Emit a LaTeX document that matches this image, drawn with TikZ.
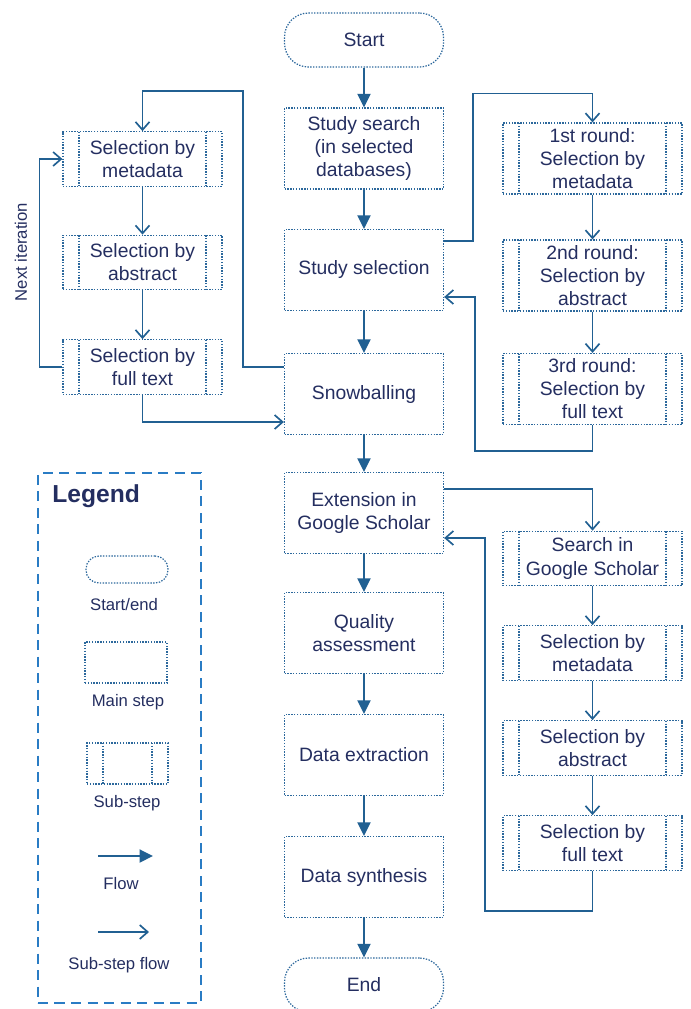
\documentclass[tikz,border=0pt]{standalone}
\usepackage{fontspec}
\setmainfont{Liberation Sans}
\usepackage{tikz}
\usetikzlibrary{arrows.meta}
\usetikzlibrary{calc}
\usetikzlibrary{positioning}
\definecolor{boxblue}{RGB}{44,104,156}
\definecolor{flowblue}{RGB}{33,96,146}
\definecolor{textnavy}{RGB}{36,46,96}
\definecolor{legendblue}{RGB}{42,124,196}
\tikzset{
    dotline/.style={
        draw=boxblue,
        line width=0.7pt,
        dash pattern=on 0.8pt off 0.8pt
    },
    stepbox/.style={
        dotline,
        align=center,
        text=textnavy,
        font=\fontsize{11}{13.1}\selectfont,
        inner sep=1pt
    },
    mainbox/.style={
        stepbox,
        minimum width=31.8mm,
        minimum height=16.2mm
    },
    termbox/.style={
        stepbox,
        rounded corners=4.8mm,
        minimum width=31.8mm,
        minimum height=10.8mm
    },
    substep/.style={
        stepbox,
        path picture={
            \draw[dotline]
              ([xshift=3.2mm]path picture bounding box.north west) -- ([xshift=3.2mm]path picture bounding box.south west)
              ([xshift=-3.2mm]path picture bounding box.north east) -- ([xshift=-3.2mm]path picture bounding box.south east);
        }
    },
    leftsub/.style={substep, minimum width=31.8mm, minimum height=10.9mm},
    rightsub/.style={substep, minimum width=35.8mm, minimum height=14.2mm},
    gssub/.style={substep, minimum width=35.8mm, minimum height=10.9mm},
    note/.style={text=textnavy, font=\fontsize{9.5}{11}\selectfont, inner sep=1pt},
    flow/.style={draw=flowblue, line width=1.1pt, -{Triangle[length=2.7mm,width=2.6mm]}},
    subflow/.style={draw=flowblue, line width=0.95pt, -{Straight Barb[length=1.6mm,width=2.8mm]}}
}
\begin{document}
\begin{tikzpicture}[x=0.2mm, y=-0.2mm]
    \useasboundingbox (0,0) rectangle (691,1009);

    % main steps
    \node[termbox] (start) at (364,40) {Start};
    \node[mainbox] (search) at (364,148.5) {Study search\\(in selected\\databases)};
    \node[mainbox] (sel) at (364,270) {Study selection};
    \node[mainbox] (snow) at (364,394) {Snowballing};
    \node[mainbox] (ext) at (364,513) {Extension in\\Google Scholar};
    \node[mainbox] (qual) at (364,633) {Quality\\assessment};
    \node[mainbox] (extr) at (364,755) {Data extraction};
    \node[mainbox] (synth) at (364,877) {Data synthesis};
    \node[termbox] (end) at (364,985) {End};
    \foreach \a/\b in {start/search,search/sel,sel/snow,snow/ext,ext/qual,qual/extr,extr/synth,synth/end}
      \draw[flow] (\a) -- (\b);

    % snowballing sub-steps
    \node[leftsub] (m1) at (142.5,159) {Selection by\\metadata};
    \node[leftsub] (m2) at (142.5,262.5) {Selection by\\abstract};
    \node[leftsub] (m3) at (142.5,367) {Selection by\\full text};

    % study selection sub-steps
    \node[rightsub] (r1) at (592.5,158.5) {1st round:\\Selection by\\metadata};
    \node[rightsub] (r2) at (592.5,275.5) {2nd round:\\Selection by\\abstract};
    \node[rightsub] (r3) at (592.5,389) {3rd round:\\Selection by\\full text};

    % google scholar sub-steps
    \node[gssub] (g1) at (592.5,558.5) {Search in\\Google Scholar};
    \node[gssub] (g2) at (592.5,653) {Selection by\\metadata};
    \node[gssub] (g3) at (592.5,748) {Selection by\\abstract};
    \node[gssub] (g4) at (592.5,843) {Selection by\\full text};

    \foreach \a/\b in {m1/m2,m2/m3,r1/r2,r2/r3,g1/g2,g2/g3,g3/g4}
      \draw[subflow] (\a) -- (\b);

    \draw[subflow] ([yshift=5.8mm]sel.east) -- ++(29,0) |- ([yshift=5.8mm]r1.north) -- (r1.north);
    \draw[subflow] (r3.south) -- ++(0,26) -| ([xshift=6.2mm,yshift=-5.4mm]sel.east) -- ([yshift=-5.4mm]sel.east);
    \draw[subflow] ([yshift=5.4mm]snow.west) -- ++(-41,0) |- ([yshift=8mm]m1.north) -- (m1.north);
    \draw[subflow] (m3.south) |- ([yshift=-5.6mm]snow.west);
    \draw[subflow] (m3.west) -- ++(-23,0) |- (m1.west);
    \node[note, rotate=90] (iter) at (21,252) {Next iteration};
    \draw[subflow] ([yshift=4.8mm]ext.east) -| (g1.north);
    \draw[subflow] (g4.south) -- ++(0,40) -| ([xshift=8.2mm,yshift=-5mm]ext.east) -- ([yshift=-5mm]ext.east);

    % legend
    \node[draw=legendblue, line width=1.1pt, dash pattern=on 2mm off 1.3mm,
          minimum width=32.6mm, minimum height=106mm] (legend) at (119.5,738) {};
    \node[font=\fontsize{14}{16}\selectfont\bfseries, text=textnavy, anchor=west, inner sep=0pt] (lgtitle) at (52,496) {Legend};
    \node[termbox, rounded corners=2.6mm, minimum width=16.4mm, minimum height=5.4mm] (lgterm) at (127,569.5) {};
    \node[note] (lgtermtxt) at (124,605) {Start/end};
    \node[mainbox, minimum width=16.4mm, minimum height=8.2mm] (lgmain) at (126,662.5) {};
    \node[note] (lgmaintxt) at (128,702) {Main step};
    \node[substep, minimum width=16.2mm, minimum height=8.2mm] (lgsub) at (127.5,763.5) {};
    \node[note] (lgsubtxt) at (127,803) {Sub-step};
    \coordinate (fa) at (98,856);
    \coordinate (fb) at (153,856);
    \draw[flow] (fa) -- (fb);
    \node[note] (lgflowtxt) at (121,884) {Flow};
    \coordinate (sa) at (98,932);
    \coordinate (sb) at (149,932);
    \draw[subflow] (sa) -- (sb);
    \node[note] (lgsubflowtxt) at (119,965) {Sub-step flow};
\end{tikzpicture}
\end{document}
